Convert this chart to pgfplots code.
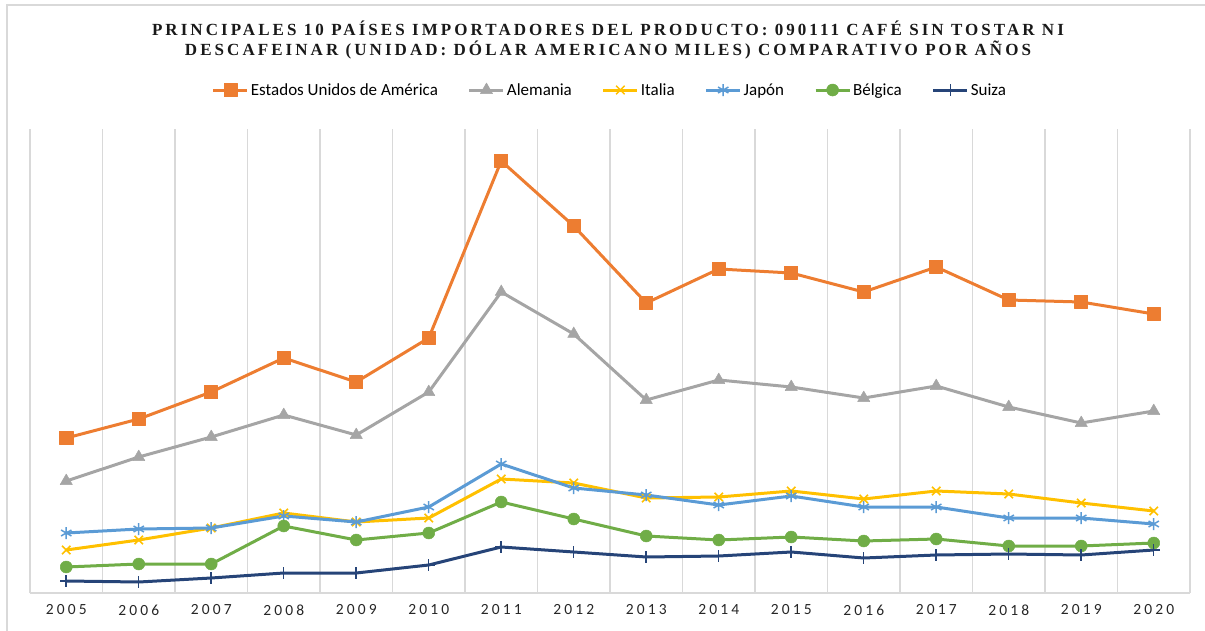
\documentclass[border=0pt]{standalone}
\usepackage{fontspec}
\setmainfont{Carlito}
\newfontfamily\titlefont[LetterSpace=18]{Liberation Serif}
\newfontfamily\tickfont[LetterSpace=20]{Carlito}
\usepackage{pgfplots}
\usepackage{pgfplotstable}
\pgfplotsset{compat=1.18}
\definecolor{cusa}{HTML}{ED7D31}
\definecolor{cale}{HTML}{A5A5A5}
\definecolor{cita}{HTML}{FFC000}
\definecolor{cjap}{HTML}{5B9BD5}
\definecolor{cbel}{HTML}{70AD47}
\definecolor{csui}{HTML}{264478}
\definecolor{cgrid}{HTML}{D9D9D9}

\pgfplotstableread{
x  usa ale ita jap bel sui
0  155 112 43  60  26  12
1  174 136 53  64  29  11
2  201 156 65  65  29  15
3  235 178 80  77  67  20
4  211 158 71  71  53  20
5  255 201 75  86  60  28
6  432 301 114 129 91 46
7  367 259 110 105 74 41
8  290 193 95  98  57  36
9  324 213 96  88  53  37
10 320 206 102 97  56  41
11 301 195 94  86  52  35
12 326 207 102 86  54  38
13 293 186 99  75  47  39
14 291 170 90  75  47  38
15 279 182 82  69  50  43
}\datos

\begin{document}
\begin{tikzpicture}
\begin{axis}[
    at={(0pt,0pt)}, anchor=south west,
    scale only axis,
    width=1160pt, height=464pt,
    xmin=-0.5, xmax=15.5,
    ymin=0, ymax=464,
    clip=false,
    axis x line*=bottom,
    axis y line=none,
    axis line style={cgrid, line width=1.5pt},
    xtick={0,...,15},
    xticklabels={2005,2006,2007,2008,2009,2010,2011,2012,2013,2014,2015,2016,2017,2018,2019,2020},
    minor xtick={-0.5,0.5,...,15.5},
    xminorgrids=true,
    minor grid style={cgrid, line width=1.5pt},
    major tick length=0pt,
    minor tick length=0pt,
    ytick=\empty,
    xticklabel style={font=\tickfont\fontsize{15.5}{18}\selectfont, text=black!85, yshift=-8pt},
    legend columns=6,
    legend style={draw=none, at={(0.5,1.084)}, anchor=center,
        font=\fontsize{17}{20}\selectfont,
        /tikz/every even column/.append style={column sep=28pt}},
    legend image code/.code={\draw[mark repeat=2,mark phase=2] plot coordinates {(0pt,0pt) (17pt,0pt) (34pt,0pt)};},
    every axis plot/.append style={line width=3pt, line join=round},
]
\addplot[cusa, mark=square*, mark size=6.5pt, mark options={line width=0.5pt}] table[x=x,y=usa] {\datos};
\addlegendentry{Estados Unidos de América}
\addplot[cale, mark=triangle*, mark size=7pt, mark options={line width=0.5pt}] table[x=x,y=ale] {\datos};
\addlegendentry{Alemania}
\addplot[cita, mark=x, mark size=6pt, mark options={line width=1.5pt}] table[x=x,y=ita] {\datos};
\addlegendentry{Italia}
\addplot[cjap, mark=asterisk, mark size=6pt, mark options={line width=1.5pt}] table[x=x,y=jap] {\datos};
\addlegendentry{Japón}
\addplot[cbel, mark=*, mark size=6pt, mark options={line width=0.5pt}] table[x=x,y=bel] {\datos};
\addlegendentry{Bélgica}
\addplot[csui, mark=+, mark size=6pt, mark options={line width=1.5pt}] table[x=x,y=sui] {\datos};
\addlegendentry{Suiza}
\end{axis}
\node[align=center, font=\titlefont\bfseries\fontsize{17}{20}\selectfont, text=black!90] at (578pt,553pt)
  {PRINCIPALES 10 PAÍSES IMPORTADORES DEL PRODUCTO: 090111 CAFÉ SIN TOSTAR NI\\
   DESCAFEINAR (UNIDAD: DÓLAR AMERICANO MILES) COMPARATIVO POR AÑOS};
\draw[cgrid, line width=2pt] (-23pt,-45pt) -- (-23pt,588pt) -- (1185pt,588pt);
\pgfresetboundingbox
\path[use as bounding box] (-30pt,-37pt) rectangle (1175pt,593pt);
\end{tikzpicture}
\end{document}
